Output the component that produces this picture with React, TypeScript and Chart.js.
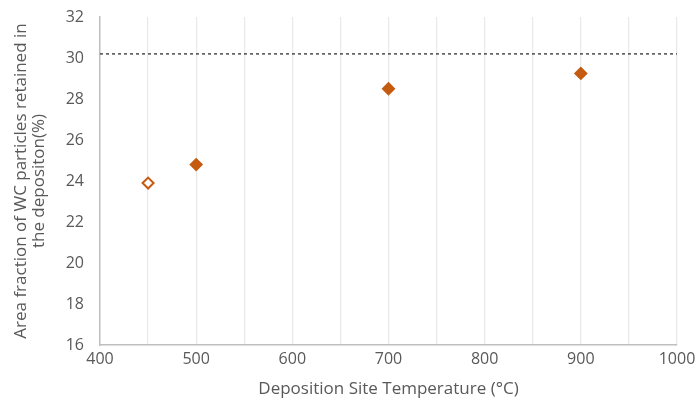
import React, { useEffect, useRef } from "react";
import { Chart, registerables } from "chart.js";

Chart.register(...registerables);

const temperatures = [450, 500, 700, 900];
const areaFractions = [23.9, 24.8, 28.5, 29.25];
const referenceLevel = 30.2;
const referenceX = [400, 1000];
const xTitle = "Deposition Site Temperature (°C)";
const yTitle = ["Area fraction of WC particles retained in", "the depositon(%)"];

const ORANGE = "#C55A11";
const TEXT = "#595959";

export default function App() {
  const ref = useRef<HTMLCanvasElement>(null);
  useEffect(() => {
    document.body.style.margin = "0";
    const ctx = ref.current!;
    const chart = new Chart(ctx, {
      type: "scatter",
      data: {
        datasets: [
          {
            data: temperatures.map((t, i) => ({ x: t, y: areaFractions[i] })),
            pointStyle: "rectRot",
            pointRadius: 5.5,
            pointBorderWidth: 2,
            borderColor: ORANGE,
            backgroundColor: temperatures.map((_, i) => (i === 0 ? "#ffffff" : ORANGE)),
            pointBackgroundColor: temperatures.map((_, i) => (i === 0 ? "#ffffff" : ORANGE)),
            pointBorderColor: ORANGE,
          } as any,
          {
            type: "line",
            data: referenceX.map((x) => ({ x, y: referenceLevel })),
            borderColor: "#333333",
            borderWidth: 1.3,
            borderDash: [3, 3],
            pointRadius: 0,
            showLine: true,
            fill: false,
          } as any,
        ],
      },
      options: {
        animation: false,
        responsive: false,
        maintainAspectRatio: false,
        layout: { padding: { top: 17, right: 18, left: 0, bottom: 0 } },
        plugins: { legend: { display: false }, tooltip: { enabled: false } },
        scales: {
          x: {
            type: "linear",
            min: 400,
            max: 1000,
            border: { color: "#bfbfbf", width: 1.5 },
            grid: { color: "#e8e8e8", drawTicks: false, lineWidth: 1.2 },
            ticks: {
              stepSize: 50,
              autoSkip: false,
              maxRotation: 0,
              padding: 5,
              color: TEXT,
              font: { family: "'Open Sans'", size: 16 },
              callback: (v: any) => (Number(v) % 100 === 0 ? String(v) : ""),
            },
            title: {
              display: true,
              text: xTitle,
              color: TEXT,
              font: { family: "'Open Sans'", size: 17 },
              padding: { top: 4, bottom: 1 },
            },
            afterFit: (s: any) => {
              s.height = 55;
              s.paddingLeft = 0;
              s.paddingRight = 0;
            },
          },
          y: {
            min: 16,
            max: 32,
            border: { color: "#bfbfbf", width: 1.5 },
            grid: { display: false },
            ticks: {
              stepSize: 2,
              padding: 8,
              color: TEXT,
              font: { family: "'Open Sans'", size: 16 },
            },
            title: {
              display: true,
              text: yTitle,
              color: TEXT,
              font: { family: "'Open Sans'", size: 17, lineHeight: 1.08 },
              padding: { top: 12, bottom: 0 },
            },
            afterFit: (s: any) => {
              s.width = 100;
              s.paddingTop = 0;
              s.paddingBottom = 0;
            },
          },
        },
      },
    });
    return () => chart.destroy();
  }, []);
  return <canvas ref={ref} width={695} height={400} style={{ display: "block" }} />;
}
